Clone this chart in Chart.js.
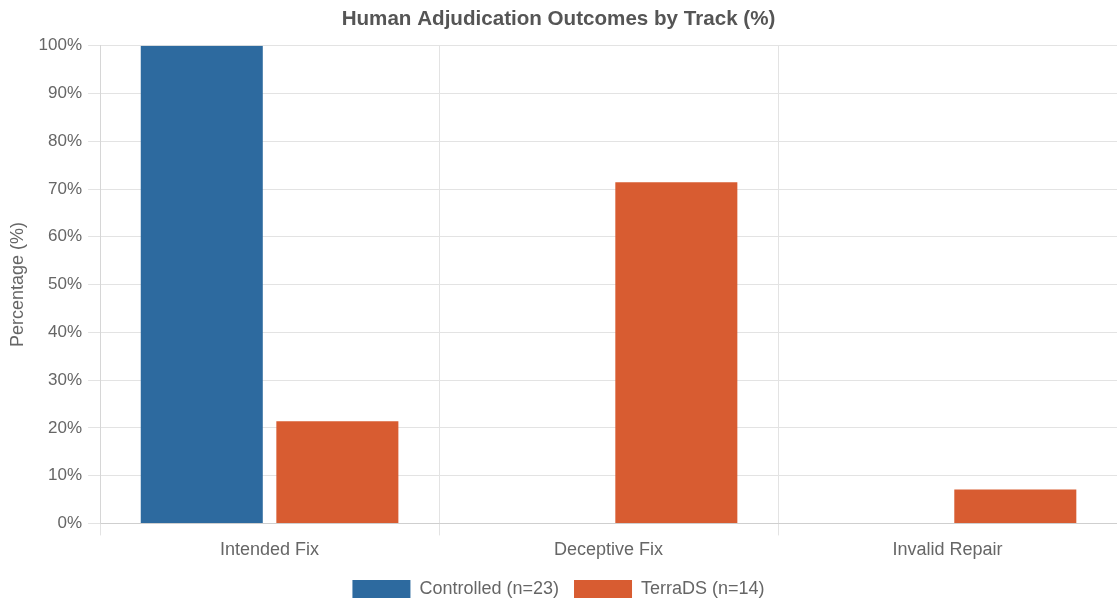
<!DOCTYPE html>
<html>
<head>
<meta charset="utf-8">
<script src="https://cdn.jsdelivr.net/npm/chart.js@4"></script>
<style>
  html, body { margin: 0; padding: 0; background: #fff; overflow: hidden; }
  #wrap { width: 1117px; height: 609px; }
</style>
</head>
<body>
<div id="wrap"><canvas id="myChart"></canvas></div>
<script>
// data
var categories = ["Intended Fix", "Deceptive Fix", "Invalid Repair"];
var controlledValues = [100, 0, 0];
var terraValues = [21.4, 71.4, 7.1];
var seriesNames = ["Controlled (n=23)", "TerraDS (n=14)"];
var barColors = ["#2d6a9f", "#d85c31"];

Chart.defaults.font.family = "'Liberation Sans', Arial, sans-serif";
Chart.defaults.color = "#666";

new Chart("myChart", {
  type: "bar",
  data: {
    labels: categories,
    datasets: [
      { label: seriesNames[0], data: controlledValues, backgroundColor: barColors[0] },
      { label: seriesNames[1], data: terraValues, backgroundColor: barColors[1] }
    ]
  },
  options: {
    responsive: true,
    maintainAspectRatio: false,
    animation: false,
    layout: { padding: 0 },
    plugins: {
      title: {
        display: true,
        text: "Human Adjudication Outcomes by Track (%)",
        font: { size: 20.6, weight: "bold" },
        color: "#555",
        padding: { top: 7, bottom: 14 }
      },
      legend: {
        position: "bottom",
        labels: { boxWidth: 58, boxHeight: 19, font: { size: 18 }, padding: 15 }
      },
      tooltip: { enabled: false }
    },
    scales: {
      x: {
        grid: { color: "#e3e3e3", tickLength: 12 },
        border: { color: "#cfcfcf" },
        ticks: { font: { size: 18 }, padding: 4 }
      },
      y: {
        min: 0,
        max: 100,
        border: { color: "#d6d6d6" },
        ticks: { stepSize: 10, font: { size: 17 }, padding: 6, callback: function(v) { return v + "%"; } },
        grid: { color: "#e3e3e3", tickLength: 12 },
        title: { display: true, text: "Percentage (%)", font: { size: 18 }, padding: { top: 7, bottom: 4 } }
      }
    }
  }
});
</script>
</body>
</html>
